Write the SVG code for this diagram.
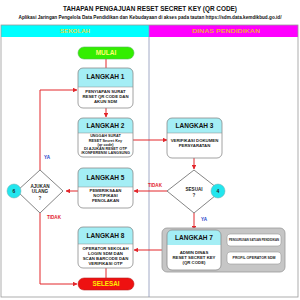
<svg xmlns="http://www.w3.org/2000/svg" width="300" height="300" viewBox="0 0 300 300">
<defs>
<style>
text{font-family:"Liberation Sans",Arial,sans-serif;font-weight:bold;text-anchor:middle}
.box{fill:none;stroke:#8a8a8a;stroke-width:0.8}
.body{fill:#fff}
.hd{fill:#a4eef5}
.ttl{font-size:6.5px;fill:#111}
.tx{font-size:4.3px;fill:#222}
.ln{fill:none;stroke:#e3262b;stroke-width:1}
.ya{font-size:4.6px;fill:#1a3fc9}
.td{font-size:4.6px;fill:#e3262b}
.num{fill:#22e6ee;stroke:#7aa;stroke-width:0.5}
</style>
<marker id="ah" viewBox="0 0 10 10" refX="9" refY="5" markerWidth="4.5" markerHeight="4.5" markerUnits="userSpaceOnUse" orient="auto"><path d="M0,0 L10,5 L0,10 Z" fill="#e3262b"/></marker>
</defs>
<rect width="300" height="300" fill="#fff"/>
<text x="150" y="11" style="font-size:6.5px;fill:#111" textLength="174" lengthAdjust="spacingAndGlyphs">TAHAPAN PENGAJUAN RESET SECRET KEY (QR CODE)</text>
<text x="150" y="18.5" style="font-size:4.6px;fill:#111" textLength="263" lengthAdjust="spacingAndGlyphs">Aplikasi Jaringan Pengelola Data Pendidikan dan Kebudayaan di akses pada tautan https://sdm.data.kemdikbud.go.id/</text>
<g id="lanes">
<rect x="1" y="25" width="148" height="12" fill="#00ffff"/>
<rect x="149" y="25" width="149" height="12" fill="#ff00ff"/>
<rect x="1" y="25" width="297" height="272" fill="none" stroke="#9a9a9a" stroke-width="0.8"/>
<line x1="149" y1="25" x2="149" y2="297" stroke="#8a96b8" stroke-width="0.8"/>
<text x="75" y="33.2" style="font-size:6px;fill:#dede4a" textLength="30" lengthAdjust="spacingAndGlyphs">SEKOLAH</text>
<text x="226" y="33.2" style="font-size:6px;fill:#f2a640" textLength="68" lengthAdjust="spacingAndGlyphs">DINAS PENDIDIKAN</text>
</g>
<g id="connectors">
<line class="ln" x1="106" y1="59" x2="106" y2="68"/>
<line class="ln" x1="106" y1="108" x2="106" y2="117" marker-end="url(#ah)"/>
<line class="ln" x1="133" y1="140" x2="167" y2="140" marker-end="url(#ah)"/>
<line class="ln" x1="194" y1="158" x2="194" y2="169" marker-end="url(#ah)"/>
<line class="ln" x1="167" y1="191" x2="134" y2="191" marker-end="url(#ah)"/>
<line class="ln" x1="78" y1="191" x2="66" y2="191" marker-end="url(#ah)"/>
<polyline class="ln" points="40,170 40,90 77,90" marker-end="url(#ah)"/>
<polyline class="ln" points="40,213 40,284 77,284" marker-end="url(#ah)"/>
<line class="ln" x1="194" y1="213" x2="194" y2="230" marker-end="url(#ah)"/>
<line class="ln" x1="162" y1="250" x2="134" y2="250" marker-end="url(#ah)"/>
<line class="ln" x1="106" y1="268" x2="106" y2="278"/>
<line x1="221" y1="240" x2="227" y2="240" stroke="#e88" stroke-width="0.8"/>
<line x1="221" y1="258" x2="227" y2="258" stroke="#e88" stroke-width="0.8"/>
<text class="ya" x="47" y="159">YA</text>
<text class="td" x="54" y="218.5">TIDAK</text>
<text class="td" x="155" y="187">TIDAK</text>
<text class="ya" x="204" y="221">YA</text>
</g>
<g id="mulai">
<rect x="78" y="47" width="56" height="12" rx="6" fill="#33ee00" stroke="#5b5" stroke-width="0.6"/>
<text x="106" y="55.3" style="font-size:6.5px;fill:#ffff70">MULAI</text>
</g>
<g id="langkah1">
<rect class="body" x="78" y="68" width="55" height="40" rx="5"/>
<path class="hd" d="M78,87 V73 Q78,68 83,68 H128 Q133,68 133,73 V87 Z"/>
<rect class="box" x="78" y="68" width="55" height="40" rx="5"/>
<line x1="78" y1="87" x2="133" y2="87" stroke="#8a8a8a" stroke-width="0.5"/>
<text class="ttl" x="105.5" y="79.3">LANGKAH 1</text>
<text class="tx" x="105.5" y="92.5">PENYIAPAN SURAT</text>
<text class="tx" x="105.5" y="97.5">RESET QR CODE DAN</text>
<text class="tx" x="105.5" y="102.5">AKUN SDM</text>
</g>
<g id="langkah2">
<rect class="body" x="78" y="118" width="55" height="39" rx="5"/>
<path class="hd" d="M78,133 V123 Q78,118 83,118 H128 Q133,118 133,123 V133 Z"/>
<rect class="box" x="78" y="118" width="55" height="39" rx="5"/>
<line x1="78" y1="133" x2="133" y2="133" stroke="#8a8a8a" stroke-width="0.5"/>
<text class="ttl" x="105.5" y="128">LANGKAH 2</text>
<g style="font-size:3.8px">
<text class="tx" x="105.5" y="137.3" style="font-size:3.8px">UNGGAH SURAT</text>
<text class="tx" x="105.5" y="141.5" style="font-size:3.8px">RESET Secret Key</text>
<text class="tx" x="105.5" y="145.5" style="font-size:3.8px">(qr code)</text>
<text class="tx" x="105.5" y="149.7" style="font-size:3.8px">DI AJUKAN RESET OTP</text>
<text class="tx" x="105.5" y="154.2" style="font-size:3.8px">/KONFERENSI LANGSUNG</text>
</g>
</g>
<g id="langkah3">
<rect class="body" x="167" y="118" width="55" height="40" rx="5"/>
<path class="hd" d="M167,133 V123 Q167,118 172,118 H217 Q222,118 222,123 V133 Z"/>
<rect class="box" x="167" y="118" width="55" height="40" rx="5"/>
<line x1="167" y1="133" x2="222" y2="133" stroke="#8a8a8a" stroke-width="0.5"/>
<text class="ttl" x="194.5" y="128.3">LANGKAH 3</text>
<text class="tx" x="194.5" y="141.5">VERIFIKASI DOKUMEN</text>
<text class="tx" x="194.5" y="146.5">PERSYARATAN</text>
</g>
<g id="sesuai">
<polygon points="194,170 221,191 194,213 167,191" fill="#fff" stroke="#666" stroke-width="0.8"/>
<text x="194" y="190.5" style="font-size:4.6px;fill:#222">SESUAI</text>
<text x="194" y="197" style="font-size:4.6px;fill:#222">?</text>
<circle class="num" cx="218" cy="191" r="7"/>
<text x="218" y="193" style="font-size:5px;fill:#222">4</text>
</g>
<g id="langkah5">
<rect class="body" x="78" y="168" width="55" height="40" rx="5"/>
<path class="hd" d="M78,187 V173 Q78,168 83,168 H128 Q133,168 133,173 V187 Z"/>
<rect class="box" x="78" y="168" width="55" height="40" rx="5"/>
<line x1="78" y1="187" x2="133" y2="187" stroke="#8a8a8a" stroke-width="0.5"/>
<text class="ttl" x="105.5" y="179.5">LANGKAH 5</text>
<text class="tx" x="105.5" y="192">PEMERIKSAAN</text>
<text class="tx" x="105.5" y="197">NOTIFIKASI</text>
<text class="tx" x="105.5" y="202">PENOLAKAN</text>
</g>
<g id="ajukan">
<polygon points="40,170 63,191 40,213 17,191" fill="#fff" stroke="#666" stroke-width="0.8"/>
<text x="40" y="187.5" style="font-size:4.6px;fill:#222">AJUKAN</text>
<text x="40" y="193.3" style="font-size:4.6px;fill:#222">ULANG</text>
<text x="40" y="199.5" style="font-size:4.6px;fill:#222">?</text>
<circle class="num" cx="14" cy="191" r="7"/>
<text x="14" y="193" style="font-size:5px;fill:#222">6</text>
</g>
<g id="langkah7">
<rect x="162" y="228" width="123" height="44" rx="5" fill="#c6c6c6" stroke="#999" stroke-width="0.8"/>
<rect class="body" x="167" y="230" width="54" height="40" rx="5"/>
<path class="hd" d="M167,245 V235 Q167,230 172,230 H216 Q221,230 221,235 V245 Z"/>
<rect class="box" x="167" y="230" width="54" height="40" rx="5"/>
<text class="ttl" x="194" y="240.3">LANGKAH 7</text>
<text class="tx" x="194" y="253.5">ADMIN DINAS</text>
<text class="tx" x="194" y="258.5">RESET SECRET KEY</text>
<text class="tx" x="194" y="263.5">(QR CODE)</text>
</g>
<g id="pengurusan">
<rect x="227" y="234" width="54" height="12" rx="3" fill="#fff" stroke="#999" stroke-width="0.6"/>
<text x="254" y="241" style="font-size:2.9px;fill:#222" textLength="50" lengthAdjust="spacingAndGlyphs">PENGURUSAN SATUAN PENDIDIKAN</text>
</g>
<g id="profil">
<rect x="227" y="252" width="54" height="12" rx="3" fill="#fff" stroke="#999" stroke-width="0.6"/>
<text x="254" y="259" style="font-size:3.2px;fill:#222" textLength="43" lengthAdjust="spacingAndGlyphs">PROFIL OPERATOR SDM</text>
</g>
<g id="langkah8">
<rect class="body" x="78" y="227" width="55" height="41" rx="5"/>
<path class="hd" d="M78,244 V232 Q78,227 83,227 H128 Q133,227 133,232 V244 Z"/>
<rect class="box" x="78" y="227" width="55" height="41" rx="5"/>
<line x1="78" y1="244" x2="133" y2="244" stroke="#8a8a8a" stroke-width="0.5"/>
<text class="ttl" x="105.5" y="238.3">LANGKAH 8</text>
<text class="tx" x="105.5" y="249.5">OPERATOR SEKOLAH</text>
<text class="tx" x="105.5" y="254.5">LOGIN SDM DAN</text>
<text class="tx" x="105.5" y="259.5">SCAN BARCODE DAN</text>
<text class="tx" x="105.5" y="264.5">VERIFIKASI OTP</text>
</g>
<g id="selesai">
<rect x="78" y="278" width="56" height="12" rx="6" fill="#ee1111" stroke="#b22" stroke-width="0.6"/>
<text x="106" y="286.3" style="font-size:6.3px;fill:#ffee00">SELESAI</text>
</g>
</svg>
